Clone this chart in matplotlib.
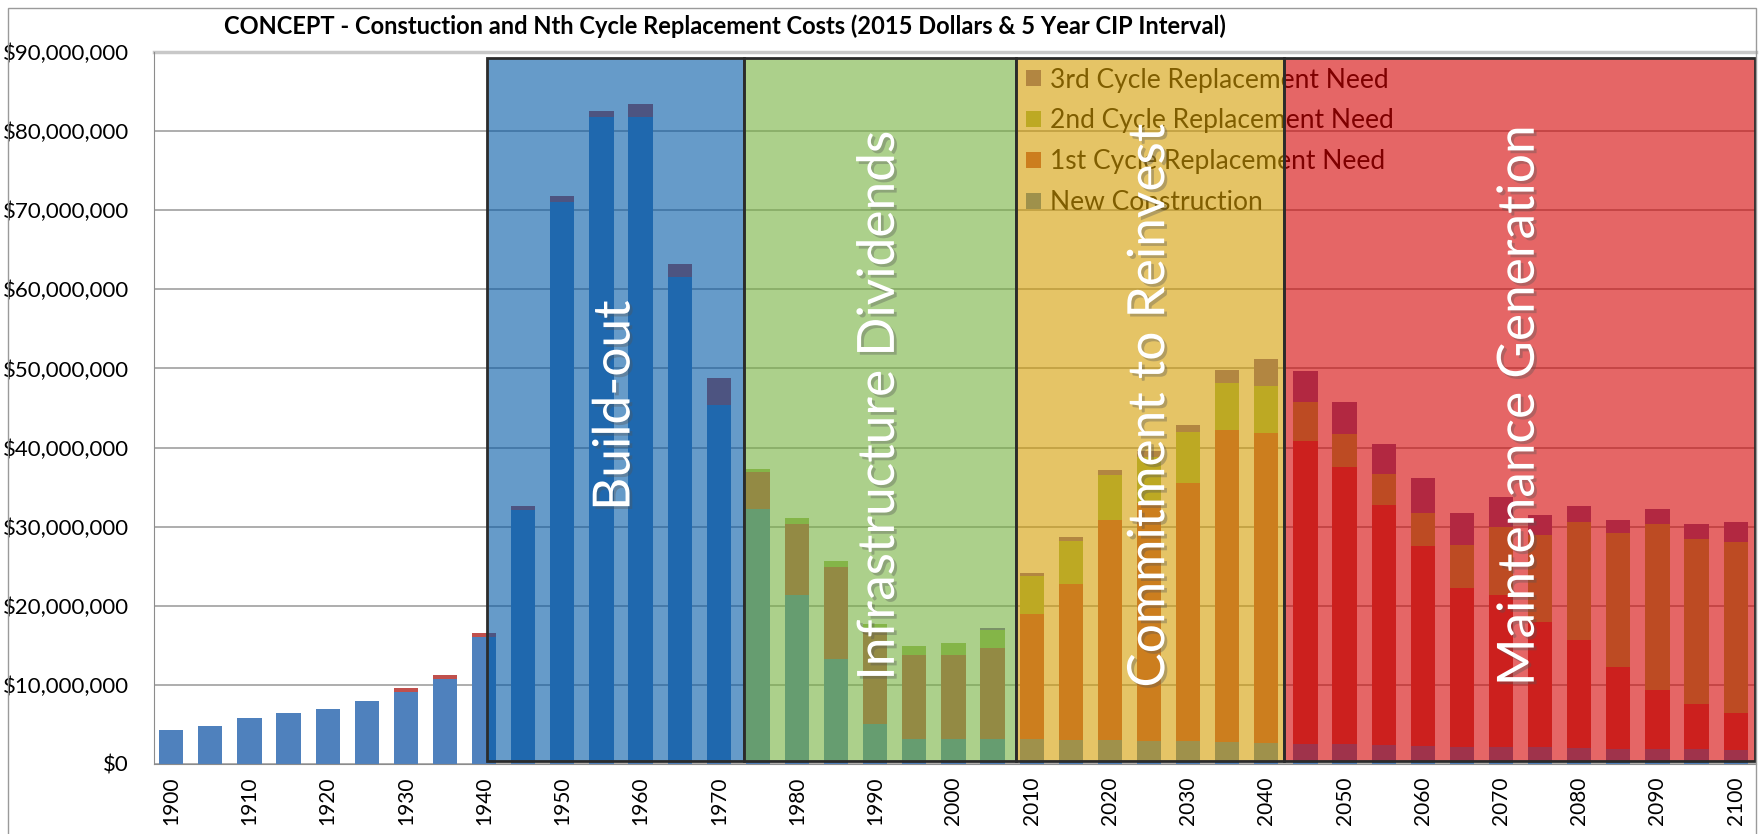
import matplotlib
matplotlib.use("Agg")
import matplotlib.pyplot as plt
import matplotlib.patheffects as pe
from matplotlib.patches import Rectangle
from matplotlib.ticker import FuncFormatter

# categories: 5 year CIP intervals
years = list(range(1900, 2101, 5))

# costs in millions of 2015 dollars
new_construction = [4.3, 4.85, 5.85, 6.4, 6.95, 7.95, 9.05, 10.7, 16.0, 32.1,
                    71.05, 81.8, 81.8, 61.5, 45.4, 32.2, 21.4, 13.3, 5.0, 3.1,
                    3.1, 3.1, 3.1, 3.05, 3.0, 2.95, 2.85, 2.75, 2.6, 2.5,
                    2.5, 2.4, 2.3, 2.2, 2.15, 2.1, 2.0, 1.95, 1.95, 1.85, 1.8]
cycle_1 = [0, 0, 0, 0, 0, 0, 0.5, 0.5, 0.6, 0.55,
           0.7, 0.75, 1.6, 1.75, 3.4, 4.7, 9.0, 11.6, 12.2, 10.7,
           10.7, 11.5, 15.9, 19.7, 27.8, 30.0, 32.7, 39.45, 39.2, 38.3,
           35.1, 30.3, 25.2, 20.1, 19.15, 15.8, 13.7, 10.35, 7.45, 5.75, 4.7]
cycle_2 = [0, 0, 0, 0, 0, 0, 0, 0, 0, 0,
           0, 0, 0, 0, 0, 0.4, 0.7, 0.7, 0.45, 1.15,
           1.5, 2.4, 4.8, 5.5, 5.7, 5.9, 6.45, 6.0, 6.0, 4.9,
           4.1, 4.0, 4.2, 5.4, 8.7, 11.0, 14.9, 16.9, 20.9, 20.8, 21.5]
cycle_3 = [0, 0, 0, 0, 0, 0, 0, 0, 0, 0,
           0, 0, 0, 0, 0, 0, 0, 0, 0, 0,
           0, 0.2, 0.4, 0.4, 0.6, 0.7, 0.9, 1.6, 3.4, 4.0,
           4.1, 3.8, 4.4, 4.0, 3.75, 2.6, 2.0, 1.7, 1.9, 1.9, 2.6]

series_names = ["New Construction", "1st Cycle Replacement Need",
                "2nd Cycle Replacement Need", "3rd Cycle Replacement Need"]
series_colors = ["#4F81BD", "#C0504D", "#9BBB59", "#8064A2"]

# eras drawn as translucent boxes over the chart
era_names = ["Build-out", "Infrastructure Dividends",
             "Commitment to Reinvest", "Maintenance Generation"]
era_start = [1940.4, 1973.2, 2008.0, 2042.3]
era_end = [1973.2, 2008.0, 2042.3, 2102.5]
era_colors = ["#0058A5", "#76B13E", "#D59D00", "#D50000"]

fig = plt.figure(figsize=(17.64, 8.34), dpi=100)
ax = fig.add_axes([154 / 1764, 1 - 764 / 834, 1602 / 1764, 712 / 834])

bottom = [0.0] * len(years)
bars = []
for vals, name, col in zip([new_construction, cycle_1, cycle_2, cycle_3],
                           series_names, series_colors):
    b = ax.bar(years, vals, width=3.1, bottom=bottom, color=col,
               label=name, zorder=2)
    bars.append(b)
    bottom = [a + v for a, v in zip(bottom, vals)]

ax.set_xlim(1897.8, 2102.6)
ax.set_ylim(0, 90)
ax.set_yticks(range(0, 91, 10))
ax.yaxis.set_major_formatter(FuncFormatter(lambda v, p: "${:,.0f}".format(v * 1e6)))
ax.set_xticks(years[::2])
ax.set_xticklabels([str(y) for y in years[::2]], rotation=90)
ax.tick_params(axis="y", length=0, pad=18, labelsize=16)
ax.tick_params(axis="x", length=0, pad=9, labelsize=15)
for lab in ax.get_xticklabels() + ax.get_yticklabels():
    lab.set_fontfamily("Lato")

ax.yaxis.grid(True, color="#a0a0a0", lw=1.2, zorder=0)
ax.set_axisbelow(True)
for s in ["top", "right"]:
    ax.spines[s].set_visible(False)
ax.spines["left"].set_color("#8c8c8c")
ax.spines["bottom"].set_color("#8c8c8c")
ax.axhline(90, color="#c8c8c8", lw=2.5, zorder=1, clip_on=False)

leg = ax.legend(handles=bars[::-1], loc="upper left",
                bbox_to_anchor=(0.538, 0.993), frameon=False,
                prop={"family": "Lato", "size": 19}, handlelength=0.55,
                handleheight=0.55, handletextpad=0.35, labelspacing=0.6,
                borderaxespad=0)
leg.set_zorder(3)

for name, s, e, col in zip(era_names, era_start, era_end, era_colors):
    ax.add_patch(Rectangle((s, 0.35), e - s, 88.85,
                           facecolor=matplotlib.colors.to_rgba(col, 0.6),
                           edgecolor="#2b2b2b", lw=2, zorder=4))
    ax.text((s + e) / 2, 45.3, name, rotation=90, ha="center", va="center",
            color="white", fontsize=37, family="Lato", zorder=6,
            path_effects=[pe.withSimplePatchShadow(offset=(2, -2),
                                                   shadow_rgbFace="#555555",
                                                   alpha=0.35)])

fig.text(0.411, 0.968,
         "CONCEPT - Constuction and Nth Cycle Replacement Costs (2015 Dollars & 5 Year CIP Interval)",
         ha="center", va="center", fontsize=17, fontweight="bold", family="Lato")

# outer chart border
fig.patches.append(Rectangle((8 / 1764, -0.01), 1748 / 1764, 1.0, fill=False,
                             edgecolor="#9a9a9a", lw=1,
                             transform=fig.transFigure, figure=fig))

fig.savefig("out.png", dpi=100)
